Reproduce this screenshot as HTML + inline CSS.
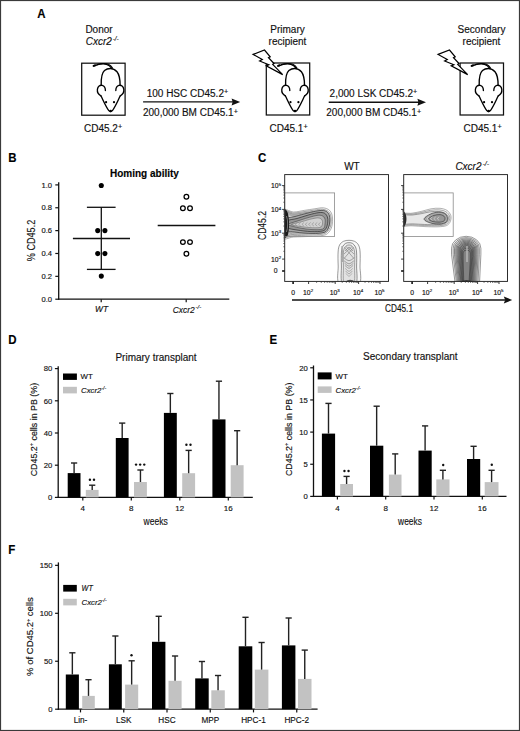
<!DOCTYPE html>
<html><head><meta charset="utf-8"><style>
html,body{margin:0;padding:0;background:#fff;}
svg{display:block;}
text{font-family:"Liberation Sans",sans-serif;stroke:#111;stroke-width:0.15px;}
</style></head><body>
<svg width="520" height="731" viewBox="0 0 520 731" fill="#111">
<rect x="0" y="0" width="520" height="731" fill="#fff"/>
<text x="37.30" y="17.70" font-size="12.6" font-weight="bold" fill="#000" textLength="8.3" lengthAdjust="spacingAndGlyphs" >A</text>
<text x="85.40" y="32.70" font-size="10" >Donor</text>
<text x="85.80" y="44.80" font-size="10" font-style="italic" >Cxcr2<tspan dx="0.8" dy="-4.1" font-size="6.4">-/-</tspan></text>
<rect x="81.70" y="63.20" width="43.40" height="52.00" fill="none" stroke="#111" stroke-width="1.25"/>
<g transform="translate(0.00,0.00)" fill="none" stroke="#000" stroke-width="1.35" stroke-linecap="round" stroke-linejoin="round">
<path d="M94.2,65.8 C98,64.3 103,63.6 106.5,64.3 C108.6,64.8 110.4,66.2 111.4,67.9" stroke-width="1.3"/>
<path d="M97,64.6 C101,63.4 105.5,63.2 108.4,64.3 C110.2,65 111.5,66.3 112.4,67.8" stroke-width="1.1"/>
<path d="M93.6,65.9 L95.2,65.3" stroke-width="2"/>
<path d="M101.2,85.2 C101,78 101.8,73 104.5,70.6 C106.5,68.9 108.4,68.5 110.4,68.5 C112.7,68.5 115,69.5 117,71.8 C119.2,74.5 120.1,79 120.1,85.2"/>
<path d="M105.4,90.6 C105.4,88 104.3,86 102.2,85.4 C100,84.8 97.8,86.5 97.4,89.3 C97.1,92 98.4,94.5 100.9,95.8"/>
<path d="M115.8,90.6 C115.8,88 116.9,86 119,85.4 C121.2,84.8 123.4,86.5 123.8,89.3 C124.1,92 122.8,94.5 120.3,95.8"/>
<path d="M100.9,95.8 C103.5,101 106.3,107.5 108.8,110.6 C109.8,111.8 111.4,111.8 112.4,110.6 C114.9,107.5 117.7,101 120.3,95.8"/>
</g>
<circle cx="106.10" cy="102.20" r="1.1" fill="#000"/>
<circle cx="114.00" cy="102.20" r="1.1" fill="#000"/>
<circle cx="110.60" cy="111.00" r="1.35" fill="#000"/>
<text x="84.00" y="131.70" font-size="10" >CD45.2<tspan dy="-2.6" font-size="7.2">+</tspan></text>
<text x="287.50" y="32.70" font-size="10" text-anchor="middle" >Primary</text>
<text x="287.50" y="44.90" font-size="10" text-anchor="middle" >recipient</text>
<rect x="266.30" y="63.00" width="43.40" height="52.00" fill="none" stroke="#111" stroke-width="1.25"/>
<g transform="translate(184.40,0.00)" fill="none" stroke="#000" stroke-width="1.35" stroke-linecap="round" stroke-linejoin="round">
<path d="M94.2,65.8 C98,64.3 103,63.6 106.5,64.3 C108.6,64.8 110.4,66.2 111.4,67.9" stroke-width="1.3"/>
<path d="M97,64.6 C101,63.4 105.5,63.2 108.4,64.3 C110.2,65 111.5,66.3 112.4,67.8" stroke-width="1.1"/>
<path d="M93.6,65.9 L95.2,65.3" stroke-width="2"/>
<path d="M101.2,85.2 C101,78 101.8,73 104.5,70.6 C106.5,68.9 108.4,68.5 110.4,68.5 C112.7,68.5 115,69.5 117,71.8 C119.2,74.5 120.1,79 120.1,85.2"/>
<path d="M105.4,90.6 C105.4,88 104.3,86 102.2,85.4 C100,84.8 97.8,86.5 97.4,89.3 C97.1,92 98.4,94.5 100.9,95.8"/>
<path d="M115.8,90.6 C115.8,88 116.9,86 119,85.4 C121.2,84.8 123.4,86.5 123.8,89.3 C124.1,92 122.8,94.5 120.3,95.8"/>
<path d="M100.9,95.8 C103.5,101 106.3,107.5 108.8,110.6 C109.8,111.8 111.4,111.8 112.4,110.6 C114.9,107.5 117.7,101 120.3,95.8"/>
</g>
<circle cx="290.50" cy="102.20" r="1.1" fill="#000"/>
<circle cx="298.40" cy="102.20" r="1.1" fill="#000"/>
<circle cx="295.00" cy="111.00" r="1.35" fill="#000"/>
<path d="M253.10,54.40 L264.50,50.00 L270.20,56.90 L268.50,57.70 L274.00,63.50 L272.70,64.40 L282.70,74.60 L266.20,65.90 L268.80,64.80 L259.60,61.00 L262.30,59.50 Z" fill="#fff" stroke="#000" stroke-width="1.2" stroke-linejoin="miter"/>
<text x="269.50" y="131.70" font-size="10" >CD45.1<tspan dy="-2.6" font-size="7.2">+</tspan></text>
<text x="481.50" y="32.70" font-size="10" text-anchor="middle" >Secondary</text>
<text x="481.50" y="44.90" font-size="10" text-anchor="middle" >recipient</text>
<rect x="460.10" y="63.00" width="43.40" height="52.00" fill="none" stroke="#111" stroke-width="1.25"/>
<g transform="translate(378.00,0.00)" fill="none" stroke="#000" stroke-width="1.35" stroke-linecap="round" stroke-linejoin="round">
<path d="M94.2,65.8 C98,64.3 103,63.6 106.5,64.3 C108.6,64.8 110.4,66.2 111.4,67.9" stroke-width="1.3"/>
<path d="M97,64.6 C101,63.4 105.5,63.2 108.4,64.3 C110.2,65 111.5,66.3 112.4,67.8" stroke-width="1.1"/>
<path d="M93.6,65.9 L95.2,65.3" stroke-width="2"/>
<path d="M101.2,85.2 C101,78 101.8,73 104.5,70.6 C106.5,68.9 108.4,68.5 110.4,68.5 C112.7,68.5 115,69.5 117,71.8 C119.2,74.5 120.1,79 120.1,85.2"/>
<path d="M105.4,90.6 C105.4,88 104.3,86 102.2,85.4 C100,84.8 97.8,86.5 97.4,89.3 C97.1,92 98.4,94.5 100.9,95.8"/>
<path d="M115.8,90.6 C115.8,88 116.9,86 119,85.4 C121.2,84.8 123.4,86.5 123.8,89.3 C124.1,92 122.8,94.5 120.3,95.8"/>
<path d="M100.9,95.8 C103.5,101 106.3,107.5 108.8,110.6 C109.8,111.8 111.4,111.8 112.4,110.6 C114.9,107.5 117.7,101 120.3,95.8"/>
</g>
<circle cx="484.10" cy="102.20" r="1.1" fill="#000"/>
<circle cx="492.00" cy="102.20" r="1.1" fill="#000"/>
<circle cx="488.60" cy="111.00" r="1.35" fill="#000"/>
<path d="M438.10,54.40 L449.50,50.00 L455.20,56.90 L453.50,57.70 L459.00,63.50 L457.70,64.40 L467.70,74.60 L451.20,65.90 L453.80,64.80 L444.60,61.00 L447.30,59.50 Z" fill="#fff" stroke="#000" stroke-width="1.2" stroke-linejoin="miter"/>
<text x="463.50" y="131.70" font-size="10" >CD45.1<tspan dy="-2.6" font-size="7.2">+</tspan></text>
<line x1="143.10" y1="101.90" x2="235.20" y2="101.90" stroke="#111" stroke-width="1.4"/>
<path d="M231.60,98.40 L240.20,101.90 L231.60,105.40 L232.60,101.90 Z" fill="#111"/>
<text x="146.70" y="96.50" font-size="10" >100 HSC CD45.2<tspan dy="-2.6" font-size="7.2">+</tspan></text>
<text x="143.00" y="116.30" font-size="10" >200,000 BM CD45.1<tspan dy="-2.6" font-size="7.2">+</tspan></text>
<line x1="328.70" y1="102.30" x2="421.00" y2="102.30" stroke="#111" stroke-width="1.4"/>
<path d="M417.40,98.80 L426.00,102.30 L417.40,105.80 L418.40,102.30 Z" fill="#111"/>
<text x="329.60" y="96.50" font-size="10" >2,000 LSK CD45.2<tspan dy="-2.6" font-size="7.2">+</tspan></text>
<text x="326.30" y="116.30" font-size="10" >200,000 BM CD45.1<tspan dy="-2.6" font-size="7.2">+</tspan></text>
<text x="8.30" y="161.50" font-size="12.6" font-weight="bold" fill="#000" textLength="8.3" lengthAdjust="spacingAndGlyphs" >B</text>
<text x="110.00" y="176.80" font-size="10" font-weight="bold" fill="#000" >Homing ability</text>
<line x1="58.70" y1="182.30" x2="58.70" y2="299.85" stroke="#111" stroke-width="1.3"/>
<line x1="58.05" y1="299.20" x2="229.30" y2="299.20" stroke="#111" stroke-width="1.3"/>
<line x1="55.30" y1="299.20" x2="58.70" y2="299.20" stroke="#111" stroke-width="1.2"/>
<text x="52.00" y="301.90" font-size="7.6" text-anchor="end" >0.0</text>
<line x1="55.30" y1="276.34" x2="58.70" y2="276.34" stroke="#111" stroke-width="1.2"/>
<text x="52.00" y="279.04" font-size="7.6" text-anchor="end" >0.2</text>
<line x1="55.30" y1="253.48" x2="58.70" y2="253.48" stroke="#111" stroke-width="1.2"/>
<text x="52.00" y="256.18" font-size="7.6" text-anchor="end" >0.4</text>
<line x1="55.30" y1="230.62" x2="58.70" y2="230.62" stroke="#111" stroke-width="1.2"/>
<text x="52.00" y="233.32" font-size="7.6" text-anchor="end" >0.6</text>
<line x1="55.30" y1="207.76" x2="58.70" y2="207.76" stroke="#111" stroke-width="1.2"/>
<text x="52.00" y="210.46" font-size="7.6" text-anchor="end" >0.8</text>
<line x1="55.30" y1="184.90" x2="58.70" y2="184.90" stroke="#111" stroke-width="1.2"/>
<text x="52.00" y="187.60" font-size="7.6" text-anchor="end" >1.0</text>
<line x1="101.20" y1="299.20" x2="101.20" y2="302.30" stroke="#111" stroke-width="1.2"/>
<line x1="186.20" y1="299.20" x2="186.20" y2="302.30" stroke="#111" stroke-width="1.2"/>
<text x="101.50" y="312.30" font-size="8.4" text-anchor="middle" font-style="italic" >WT</text>
<text x="172.80" y="312.50" font-size="8.4" font-style="italic" >Cxcr2<tspan dx="0.8" dy="-3.3" font-size="6">-/-</tspan></text>
<text transform="translate(35.3,240.5) rotate(-90)" font-size="10.8" text-anchor="middle" textLength="41.4" lengthAdjust="spacingAndGlyphs" fill="#111">% CD45.2</text>
<circle cx="101.3" cy="185.5" r="2.55" fill="#000"/>
<circle cx="97.7" cy="230.6" r="2.55" fill="#000"/>
<circle cx="104.9" cy="230.6" r="2.55" fill="#000"/>
<circle cx="97.7" cy="253.6" r="2.55" fill="#000"/>
<circle cx="104.9" cy="253.6" r="2.55" fill="#000"/>
<circle cx="101.3" cy="276.1" r="2.55" fill="#000"/>
<line x1="72.90" y1="238.50" x2="130.00" y2="238.50" stroke="#111" stroke-width="1.3"/>
<line x1="101.30" y1="207.30" x2="101.30" y2="269.40" stroke="#111" stroke-width="1.3"/>
<line x1="86.90" y1="207.30" x2="115.60" y2="207.30" stroke="#111" stroke-width="1.3"/>
<line x1="86.90" y1="269.40" x2="115.60" y2="269.40" stroke="#111" stroke-width="1.3"/>
<circle cx="186.4" cy="196.7" r="2.35" fill="#fff" stroke="#000" stroke-width="1.25"/>
<circle cx="182.9" cy="208.2" r="2.35" fill="#fff" stroke="#000" stroke-width="1.25"/>
<circle cx="190" cy="208.2" r="2.35" fill="#fff" stroke="#000" stroke-width="1.25"/>
<circle cx="182.9" cy="242.1" r="2.35" fill="#fff" stroke="#000" stroke-width="1.25"/>
<circle cx="190" cy="242.1" r="2.35" fill="#fff" stroke="#000" stroke-width="1.25"/>
<circle cx="186.4" cy="253.7" r="2.35" fill="#fff" stroke="#000" stroke-width="1.25"/>
<line x1="157.70" y1="225.50" x2="215.40" y2="225.50" stroke="#111" stroke-width="1.3"/>
<text x="257.90" y="161.90" font-size="12.6" font-weight="bold" fill="#000" textLength="8.3" lengthAdjust="spacingAndGlyphs" >C</text>
<g id="flow"></g>
<text x="8.30" y="344.20" font-size="12.6" font-weight="bold" fill="#000" textLength="8.3" lengthAdjust="spacingAndGlyphs" >D</text>
<text x="156.00" y="360.50" font-size="10" text-anchor="middle" >Primary transplant</text>
<line x1="58.20" y1="366.30" x2="58.20" y2="498.05" stroke="#111" stroke-width="1.3"/>
<line x1="57.55" y1="497.40" x2="252.80" y2="497.40" stroke="#111" stroke-width="1.3"/>
<line x1="54.90" y1="497.40" x2="58.20" y2="497.40" stroke="#111" stroke-width="1.2"/>
<text x="52.40" y="500.20" font-size="7.7" text-anchor="end" >0</text>
<line x1="54.90" y1="465.20" x2="58.20" y2="465.20" stroke="#111" stroke-width="1.2"/>
<text x="52.40" y="468.00" font-size="7.7" text-anchor="end" >20</text>
<line x1="54.90" y1="433.00" x2="58.20" y2="433.00" stroke="#111" stroke-width="1.2"/>
<text x="52.40" y="435.80" font-size="7.7" text-anchor="end" >40</text>
<line x1="54.90" y1="400.80" x2="58.20" y2="400.80" stroke="#111" stroke-width="1.2"/>
<text x="52.40" y="403.60" font-size="7.7" text-anchor="end" >60</text>
<line x1="54.90" y1="368.60" x2="58.20" y2="368.60" stroke="#111" stroke-width="1.2"/>
<text x="52.40" y="371.40" font-size="7.7" text-anchor="end" >80</text>
<line x1="82.80" y1="497.40" x2="82.80" y2="500.60" stroke="#111" stroke-width="1.2"/>
<line x1="131.30" y1="497.40" x2="131.30" y2="500.60" stroke="#111" stroke-width="1.2"/>
<line x1="179.80" y1="497.40" x2="179.80" y2="500.60" stroke="#111" stroke-width="1.2"/>
<line x1="228.30" y1="497.40" x2="228.30" y2="500.60" stroke="#111" stroke-width="1.2"/>
<rect x="67.70" y="473.10" width="12.80" height="24.30" fill="#000"/>
<line x1="74.10" y1="473.10" x2="74.10" y2="463.00" stroke="#222" stroke-width="1.4"/>
<line x1="71.00" y1="463.00" x2="77.20" y2="463.00" stroke="#222" stroke-width="1.4"/>
<rect x="85.80" y="489.90" width="12.80" height="7.50" fill="#c2c2c2"/>
<line x1="92.20" y1="489.90" x2="92.20" y2="485.20" stroke="#222" stroke-width="1.4"/>
<line x1="89.10" y1="485.20" x2="95.30" y2="485.20" stroke="#222" stroke-width="1.4"/>
<rect x="115.80" y="438.00" width="12.80" height="59.40" fill="#000"/>
<line x1="122.20" y1="438.00" x2="122.20" y2="423.10" stroke="#222" stroke-width="1.4"/>
<line x1="119.10" y1="423.10" x2="125.30" y2="423.10" stroke="#222" stroke-width="1.4"/>
<rect x="134.00" y="482.00" width="12.90" height="15.40" fill="#c2c2c2"/>
<line x1="140.45" y1="482.00" x2="140.45" y2="470.00" stroke="#222" stroke-width="1.4"/>
<line x1="137.35" y1="470.00" x2="143.55" y2="470.00" stroke="#222" stroke-width="1.4"/>
<rect x="163.90" y="412.90" width="12.90" height="84.50" fill="#000"/>
<line x1="170.35" y1="412.90" x2="170.35" y2="393.50" stroke="#222" stroke-width="1.4"/>
<line x1="167.25" y1="393.50" x2="173.45" y2="393.50" stroke="#222" stroke-width="1.4"/>
<rect x="182.20" y="473.20" width="12.90" height="24.20" fill="#c2c2c2"/>
<line x1="188.65" y1="473.20" x2="188.65" y2="450.40" stroke="#222" stroke-width="1.4"/>
<line x1="185.55" y1="450.40" x2="191.75" y2="450.40" stroke="#222" stroke-width="1.4"/>
<rect x="212.40" y="419.40" width="13.10" height="78.00" fill="#000"/>
<line x1="218.95" y1="419.40" x2="218.95" y2="381.20" stroke="#222" stroke-width="1.4"/>
<line x1="215.85" y1="381.20" x2="222.05" y2="381.20" stroke="#222" stroke-width="1.4"/>
<rect x="230.70" y="465.20" width="12.90" height="32.20" fill="#c2c2c2"/>
<line x1="237.15" y1="465.20" x2="237.15" y2="430.70" stroke="#222" stroke-width="1.4"/>
<line x1="234.05" y1="430.70" x2="240.25" y2="430.70" stroke="#222" stroke-width="1.4"/>
<circle cx="89.90" cy="479.80" r="1.2" fill="#111"/>
<circle cx="94.00" cy="479.80" r="1.2" fill="#111"/>
<circle cx="136.05" cy="464.60" r="1.2" fill="#111"/>
<circle cx="140.15" cy="464.60" r="1.2" fill="#111"/>
<circle cx="144.25" cy="464.60" r="1.2" fill="#111"/>
<circle cx="186.40" cy="444.80" r="1.2" fill="#111"/>
<circle cx="190.50" cy="444.80" r="1.2" fill="#111"/>
<text x="82.80" y="511.20" font-size="8.0" text-anchor="middle" >4</text>
<text x="131.30" y="511.20" font-size="8.0" text-anchor="middle" >8</text>
<text x="179.80" y="511.20" font-size="8.0" text-anchor="middle" >12</text>
<text x="228.30" y="511.20" font-size="8.0" text-anchor="middle" >16</text>
<text x="155.60" y="525.00" font-size="11" text-anchor="middle" textLength="24.2" lengthAdjust="spacingAndGlyphs" >weeks</text>
<text transform="translate(36.6,429.6) rotate(-90)" font-size="8.9" text-anchor="middle" fill="#111">CD45.2<tspan dy="-3.2" font-size="5.5">+</tspan><tspan dy="3.2"> cells in PB (%)</tspan></text>
<rect x="63.00" y="373.50" width="13.90" height="6.40" fill="#000"/>
<text x="80.60" y="379.40" font-size="7.8" >WT</text>
<rect x="63.00" y="386.80" width="13.90" height="6.60" fill="#c2c2c2"/>
<text x="81.00" y="393.20" font-size="7.8" font-style="italic" >Cxcr2<tspan dy="-3" font-size="5">-/-</tspan></text>
<text x="269.40" y="344.10" font-size="12.6" font-weight="bold" fill="#000" textLength="7.67" lengthAdjust="spacingAndGlyphs" >E</text>
<text x="410.30" y="359.60" font-size="10" text-anchor="middle" >Secondary transplant</text>
<line x1="313.50" y1="365.50" x2="313.50" y2="497.05" stroke="#111" stroke-width="1.3"/>
<line x1="312.85" y1="496.40" x2="506.50" y2="496.40" stroke="#111" stroke-width="1.3"/>
<line x1="310.20" y1="496.40" x2="313.50" y2="496.40" stroke="#111" stroke-width="1.2"/>
<text x="307.70" y="499.20" font-size="7.7" text-anchor="end" >0</text>
<line x1="310.20" y1="464.25" x2="313.50" y2="464.25" stroke="#111" stroke-width="1.2"/>
<text x="307.70" y="467.05" font-size="7.7" text-anchor="end" >5</text>
<line x1="310.20" y1="432.10" x2="313.50" y2="432.10" stroke="#111" stroke-width="1.2"/>
<text x="307.70" y="434.90" font-size="7.7" text-anchor="end" >10</text>
<line x1="310.20" y1="399.95" x2="313.50" y2="399.95" stroke="#111" stroke-width="1.2"/>
<text x="307.70" y="402.75" font-size="7.7" text-anchor="end" >15</text>
<line x1="310.20" y1="367.80" x2="313.50" y2="367.80" stroke="#111" stroke-width="1.2"/>
<text x="307.70" y="370.60" font-size="7.7" text-anchor="end" >20</text>
<line x1="337.40" y1="496.40" x2="337.40" y2="499.60" stroke="#111" stroke-width="1.2"/>
<line x1="385.70" y1="496.40" x2="385.70" y2="499.60" stroke="#111" stroke-width="1.2"/>
<line x1="434.00" y1="496.40" x2="434.00" y2="499.60" stroke="#111" stroke-width="1.2"/>
<line x1="482.30" y1="496.40" x2="482.30" y2="499.60" stroke="#111" stroke-width="1.2"/>
<rect x="321.90" y="433.60" width="13.20" height="62.80" fill="#000"/>
<line x1="328.50" y1="433.60" x2="328.50" y2="403.40" stroke="#222" stroke-width="1.4"/>
<line x1="325.40" y1="403.40" x2="331.60" y2="403.40" stroke="#222" stroke-width="1.4"/>
<rect x="340.20" y="484.00" width="12.80" height="12.40" fill="#c2c2c2"/>
<line x1="346.60" y1="484.00" x2="346.60" y2="476.40" stroke="#222" stroke-width="1.4"/>
<line x1="343.50" y1="476.40" x2="349.70" y2="476.40" stroke="#222" stroke-width="1.4"/>
<rect x="370.00" y="445.70" width="13.30" height="50.70" fill="#000"/>
<line x1="376.65" y1="445.70" x2="376.65" y2="406.20" stroke="#222" stroke-width="1.4"/>
<line x1="373.55" y1="406.20" x2="379.75" y2="406.20" stroke="#222" stroke-width="1.4"/>
<rect x="388.90" y="474.60" width="12.60" height="21.80" fill="#c2c2c2"/>
<line x1="395.20" y1="474.60" x2="395.20" y2="453.90" stroke="#222" stroke-width="1.4"/>
<line x1="392.10" y1="453.90" x2="398.30" y2="453.90" stroke="#222" stroke-width="1.4"/>
<rect x="418.50" y="450.60" width="13.20" height="45.80" fill="#000"/>
<line x1="425.10" y1="450.60" x2="425.10" y2="425.90" stroke="#222" stroke-width="1.4"/>
<line x1="422.00" y1="425.90" x2="428.20" y2="425.90" stroke="#222" stroke-width="1.4"/>
<rect x="436.30" y="479.40" width="13.20" height="17.00" fill="#c2c2c2"/>
<line x1="442.90" y1="479.40" x2="442.90" y2="470.30" stroke="#222" stroke-width="1.4"/>
<line x1="439.80" y1="470.30" x2="446.00" y2="470.30" stroke="#222" stroke-width="1.4"/>
<rect x="467.00" y="459.00" width="13.20" height="37.40" fill="#000"/>
<line x1="473.60" y1="459.00" x2="473.60" y2="446.30" stroke="#222" stroke-width="1.4"/>
<line x1="470.50" y1="446.30" x2="476.70" y2="446.30" stroke="#222" stroke-width="1.4"/>
<rect x="484.70" y="482.10" width="13.80" height="14.30" fill="#c2c2c2"/>
<line x1="491.60" y1="482.10" x2="491.60" y2="470.30" stroke="#222" stroke-width="1.4"/>
<line x1="488.50" y1="470.30" x2="494.70" y2="470.30" stroke="#222" stroke-width="1.4"/>
<circle cx="344.45" cy="471.00" r="1.2" fill="#111"/>
<circle cx="348.55" cy="471.00" r="1.2" fill="#111"/>
<circle cx="443.20" cy="465.00" r="1.2" fill="#111"/>
<circle cx="491.80" cy="464.70" r="1.2" fill="#111"/>
<text x="337.40" y="510.80" font-size="8.0" text-anchor="middle" >4</text>
<text x="385.70" y="510.80" font-size="8.0" text-anchor="middle" >8</text>
<text x="434.00" y="510.80" font-size="8.0" text-anchor="middle" >12</text>
<text x="482.30" y="510.80" font-size="8.0" text-anchor="middle" >16</text>
<text x="410.00" y="524.60" font-size="11" text-anchor="middle" textLength="23.8" lengthAdjust="spacingAndGlyphs" >weeks</text>
<text transform="translate(291.6,429.3) rotate(-90)" font-size="8.9" text-anchor="middle" fill="#111">CD45.2<tspan dy="-3.2" font-size="5.5">+</tspan><tspan dy="3.2"> cells in PB (%)</tspan></text>
<rect x="317.70" y="372.40" width="13.90" height="7.00" fill="#000"/>
<text x="335.60" y="379.20" font-size="7.8" >WT</text>
<rect x="317.70" y="386.40" width="13.90" height="6.50" fill="#c2c2c2"/>
<text x="335.60" y="392.60" font-size="7.8" font-style="italic" >Cxcr2<tspan dy="-3" font-size="5">-/-</tspan></text>
<text x="8.30" y="554.30" font-size="12.6" font-weight="bold" fill="#000" textLength="7.03" lengthAdjust="spacingAndGlyphs" >F</text>
<line x1="58.40" y1="562.40" x2="58.40" y2="709.85" stroke="#111" stroke-width="1.3"/>
<line x1="57.75" y1="709.20" x2="317.60" y2="709.20" stroke="#111" stroke-width="1.3"/>
<line x1="55.10" y1="709.20" x2="58.40" y2="709.20" stroke="#111" stroke-width="1.2"/>
<text x="52.60" y="712.00" font-size="7.7" text-anchor="end" >0</text>
<line x1="55.10" y1="661.25" x2="58.40" y2="661.25" stroke="#111" stroke-width="1.2"/>
<text x="52.60" y="664.05" font-size="7.7" text-anchor="end" >50</text>
<line x1="55.10" y1="613.30" x2="58.40" y2="613.30" stroke="#111" stroke-width="1.2"/>
<text x="52.60" y="616.10" font-size="7.7" text-anchor="end" >100</text>
<line x1="55.10" y1="565.35" x2="58.40" y2="565.35" stroke="#111" stroke-width="1.2"/>
<text x="52.60" y="568.15" font-size="7.7" text-anchor="end" >150</text>
<line x1="80.50" y1="709.20" x2="80.50" y2="712.40" stroke="#111" stroke-width="1.2"/>
<line x1="123.75" y1="709.20" x2="123.75" y2="712.40" stroke="#111" stroke-width="1.2"/>
<line x1="167.00" y1="709.20" x2="167.00" y2="712.40" stroke="#111" stroke-width="1.2"/>
<line x1="210.25" y1="709.20" x2="210.25" y2="712.40" stroke="#111" stroke-width="1.2"/>
<line x1="253.50" y1="709.20" x2="253.50" y2="712.40" stroke="#111" stroke-width="1.2"/>
<line x1="296.75" y1="709.20" x2="296.75" y2="712.40" stroke="#111" stroke-width="1.2"/>
<rect x="65.80" y="674.50" width="13.10" height="34.70" fill="#000"/>
<line x1="72.35" y1="674.50" x2="72.35" y2="652.80" stroke="#222" stroke-width="1.4"/>
<line x1="69.25" y1="652.80" x2="75.45" y2="652.80" stroke="#222" stroke-width="1.4"/>
<rect x="82.20" y="695.90" width="12.60" height="13.30" fill="#c2c2c2"/>
<line x1="88.50" y1="695.90" x2="88.50" y2="679.70" stroke="#222" stroke-width="1.4"/>
<line x1="85.40" y1="679.70" x2="91.60" y2="679.70" stroke="#222" stroke-width="1.4"/>
<rect x="108.90" y="664.30" width="12.90" height="44.90" fill="#000"/>
<line x1="115.35" y1="664.30" x2="115.35" y2="636.00" stroke="#222" stroke-width="1.4"/>
<line x1="112.25" y1="636.00" x2="118.45" y2="636.00" stroke="#222" stroke-width="1.4"/>
<rect x="125.10" y="684.60" width="13.10" height="24.60" fill="#c2c2c2"/>
<line x1="131.65" y1="684.60" x2="131.65" y2="660.80" stroke="#222" stroke-width="1.4"/>
<line x1="128.55" y1="660.80" x2="134.75" y2="660.80" stroke="#222" stroke-width="1.4"/>
<rect x="152.00" y="641.80" width="13.40" height="67.40" fill="#000"/>
<line x1="158.70" y1="641.80" x2="158.70" y2="616.30" stroke="#222" stroke-width="1.4"/>
<line x1="155.60" y1="616.30" x2="161.80" y2="616.30" stroke="#222" stroke-width="1.4"/>
<rect x="168.50" y="680.80" width="13.10" height="28.40" fill="#c2c2c2"/>
<line x1="175.05" y1="680.80" x2="175.05" y2="656.00" stroke="#222" stroke-width="1.4"/>
<line x1="171.95" y1="656.00" x2="178.15" y2="656.00" stroke="#222" stroke-width="1.4"/>
<rect x="195.20" y="678.40" width="13.50" height="30.80" fill="#000"/>
<line x1="201.95" y1="678.40" x2="201.95" y2="661.50" stroke="#222" stroke-width="1.4"/>
<line x1="198.85" y1="661.50" x2="205.05" y2="661.50" stroke="#222" stroke-width="1.4"/>
<rect x="211.30" y="690.30" width="13.50" height="18.90" fill="#c2c2c2"/>
<line x1="218.05" y1="690.30" x2="218.05" y2="675.50" stroke="#222" stroke-width="1.4"/>
<line x1="214.95" y1="675.50" x2="221.15" y2="675.50" stroke="#222" stroke-width="1.4"/>
<rect x="238.70" y="646.30" width="13.60" height="62.90" fill="#000"/>
<line x1="245.50" y1="646.30" x2="245.50" y2="617.30" stroke="#222" stroke-width="1.4"/>
<line x1="242.40" y1="617.30" x2="248.60" y2="617.30" stroke="#222" stroke-width="1.4"/>
<rect x="254.80" y="669.60" width="13.60" height="39.60" fill="#c2c2c2"/>
<line x1="261.60" y1="669.60" x2="261.60" y2="642.50" stroke="#222" stroke-width="1.4"/>
<line x1="258.50" y1="642.50" x2="264.70" y2="642.50" stroke="#222" stroke-width="1.4"/>
<rect x="281.90" y="645.40" width="13.50" height="63.80" fill="#000"/>
<line x1="288.65" y1="645.40" x2="288.65" y2="618.00" stroke="#222" stroke-width="1.4"/>
<line x1="285.55" y1="618.00" x2="291.75" y2="618.00" stroke="#222" stroke-width="1.4"/>
<rect x="298.00" y="678.90" width="13.50" height="30.30" fill="#c2c2c2"/>
<line x1="304.75" y1="678.90" x2="304.75" y2="650.10" stroke="#222" stroke-width="1.4"/>
<line x1="301.65" y1="650.10" x2="307.85" y2="650.10" stroke="#222" stroke-width="1.4"/>
<circle cx="131.50" cy="655.30" r="1.2" fill="#111"/>
<text x="80.50" y="723.00" font-size="8.2" text-anchor="middle" >Lin-</text>
<text x="123.75" y="723.00" font-size="8.2" text-anchor="middle" >LSK</text>
<text x="167.00" y="723.00" font-size="8.2" text-anchor="middle" >HSC</text>
<text x="210.25" y="723.00" font-size="8.2" text-anchor="middle" >MPP</text>
<text x="253.50" y="723.00" font-size="8.2" text-anchor="middle" >HPC-1</text>
<text x="296.75" y="723.00" font-size="8.2" text-anchor="middle" >HPC-2</text>
<text transform="translate(33.3,636.5) rotate(-90)" font-size="9.5" text-anchor="middle" fill="#111">% of CD45.2<tspan dy="-3.2" font-size="5.5">+</tspan><tspan dy="3.2"> cells</tspan></text>
<rect x="63.20" y="584.90" width="13.60" height="6.70" fill="#000"/>
<text x="81.60" y="590.90" font-size="8.2" font-style="italic" textLength="11.2" lengthAdjust="spacingAndGlyphs" >WT</text>
<rect x="63.20" y="598.80" width="13.60" height="6.60" fill="#c2c2c2"/>
<text x="81.50" y="605.20" font-size="7.8" font-style="italic" >Cxcr2<tspan dy="-3" font-size="5">-/-</tspan></text>
<clipPath id="clipwt"><rect x="284.70" y="174.60" width="103.80" height="106.80"/></clipPath>
<g clip-path="url(#clipwt)">
<path d="M281.00,210.60 C283.10,206.37 289.73,212.03 293.60,212.00 C297.47,211.97 300.68,210.93 304.20,210.40 C307.72,209.87 311.53,209.23 314.70,208.80 C317.87,208.37 320.72,207.53 323.20,207.80 C325.68,208.07 328.07,208.90 329.60,210.40 C331.13,211.90 332.02,214.15 332.40,216.80 C332.78,219.45 332.55,223.67 331.90,226.30 C331.25,228.93 329.95,231.08 328.50,232.60 C327.05,234.12 326.37,234.77 323.20,235.40 C320.03,236.03 314.43,236.13 309.50,236.40 C304.57,236.67 298.35,236.83 293.60,237.00 C288.85,237.17 283.10,241.80 281.00,237.40 C278.90,233.00 278.90,214.83 281.00,210.60 Z" fill="#f6f6f6" stroke="#666" stroke-width="0.5"/>
<path d="M281.77,211.79 C283.79,207.97 290.15,213.09 293.86,213.06 C297.57,213.03 300.66,212.10 304.03,211.61 C307.40,211.13 311.06,210.56 314.10,210.17 C317.14,209.78 319.88,209.02 322.26,209.26 C324.64,209.50 326.93,210.26 328.40,211.61 C329.87,212.97 330.72,215.00 331.08,217.40 C331.45,219.79 331.23,223.60 330.60,225.98 C329.98,228.36 328.73,230.30 327.34,231.68 C325.95,233.05 325.30,233.63 322.26,234.21 C319.22,234.78 313.85,234.87 309.11,235.11 C304.38,235.35 298.42,235.50 293.86,235.65 C289.30,235.80 283.79,239.99 281.77,236.01 C279.76,232.04 279.76,215.62 281.77,211.79 Z" fill="#ececec" stroke="#555" stroke-width="0.5"/>
<path d="M282.54,212.99 C284.47,209.57 290.57,214.15 294.12,214.12 C297.67,214.09 300.63,213.26 303.86,212.83 C307.09,212.40 310.60,211.88 313.51,211.53 C316.42,211.18 319.03,210.51 321.31,210.73 C323.60,210.94 325.79,211.62 327.19,212.83 C328.60,214.04 329.42,215.85 329.77,217.99 C330.12,220.13 329.91,223.54 329.31,225.66 C328.71,227.79 327.52,229.53 326.18,230.75 C324.85,231.98 324.22,232.50 321.31,233.01 C318.41,233.52 313.26,233.60 308.73,233.82 C304.20,234.03 298.48,234.17 294.12,234.30 C289.76,234.44 284.47,238.18 282.54,234.63 C280.61,231.07 280.61,216.41 282.54,212.99 Z" fill="#dedede" stroke="#444" stroke-width="0.5"/>
<path d="M283.32,214.18 C285.16,211.17 290.98,215.20 294.38,215.18 C297.78,215.15 300.60,214.42 303.69,214.04 C306.78,213.66 310.13,213.21 312.91,212.90 C315.69,212.59 318.19,212.00 320.37,212.19 C322.55,212.38 324.65,212.97 325.99,214.04 C327.34,215.11 328.11,216.71 328.45,218.59 C328.79,220.48 328.58,223.47 328.01,225.35 C327.44,227.22 326.30,228.75 325.03,229.83 C323.75,230.91 323.15,231.37 320.37,231.82 C317.59,232.27 312.67,232.34 308.34,232.53 C304.01,232.72 298.55,232.84 294.38,232.96 C290.21,233.07 285.16,236.37 283.32,233.24 C281.47,230.11 281.47,217.19 283.32,214.18 Z" fill="#e2e2e2" stroke="#555" stroke-width="0.45"/>
<path d="M284.09,215.38 C285.85,212.77 291.40,216.26 294.64,216.24 C297.88,216.22 300.57,215.58 303.52,215.25 C306.46,214.93 309.66,214.54 312.31,214.27 C314.96,214.00 317.35,213.49 319.43,213.65 C321.51,213.82 323.51,214.33 324.79,215.25 C326.07,216.18 326.81,217.56 327.13,219.19 C327.46,220.82 327.26,223.41 326.72,225.03 C326.17,226.65 325.08,227.97 323.87,228.90 C322.65,229.83 322.08,230.23 319.43,230.62 C316.78,231.01 312.09,231.07 307.96,231.24 C303.82,231.40 298.62,231.50 294.64,231.61 C290.66,231.71 285.85,234.56 284.09,231.85 C282.33,229.15 282.33,217.98 284.09,215.38 Z" fill="#dadada" stroke="#555" stroke-width="0.45"/>
<path d="M284.00,219.50 C285.83,217.33 291.00,217.58 295.00,216.50 C299.00,215.42 304.17,213.95 308.00,213.00 C311.83,212.05 315.17,211.17 318.00,210.80 C320.83,210.43 323.17,210.18 325.00,210.80 C326.83,211.42 328.20,212.80 329.00,214.50 C329.80,216.20 329.92,218.75 329.80,221.00 C329.68,223.25 329.18,226.12 328.30,228.00 C327.42,229.88 327.22,231.40 324.50,232.30 C321.78,233.20 316.75,233.42 312.00,233.40 C307.25,233.38 300.67,232.85 296.00,232.20 C291.33,231.55 286.00,231.62 284.00,229.50 C282.00,227.38 282.17,221.67 284.00,219.50 Z" fill="#a8a8a8" stroke="#222" stroke-width="0.6"/>
<path d="M287.00,221.00 C288.67,219.50 293.33,219.53 297.00,218.50 C300.67,217.47 305.33,215.78 309.00,214.80 C312.67,213.82 316.42,212.87 319.00,212.60 C321.58,212.33 323.10,212.47 324.50,213.20 C325.90,213.93 326.85,215.53 327.40,217.00 C327.95,218.47 328.00,220.17 327.80,222.00 C327.60,223.83 327.08,226.50 326.20,228.00 C325.32,229.50 325.03,230.40 322.50,231.00 C319.97,231.60 315.25,231.77 311.00,231.60 C306.75,231.43 301.00,230.68 297.00,230.00 C293.00,229.32 288.67,229.00 287.00,227.50 C285.33,226.00 285.33,222.50 287.00,221.00 Z" fill="#969696" stroke="#1a1a1a" stroke-width="0.6"/>
<path d="M289.00,223.80 C290.83,222.97 296.33,221.37 300.00,220.20 C303.67,219.03 307.67,217.63 311.00,216.80 C314.33,215.97 317.73,215.00 320.00,215.20 C322.27,215.40 323.77,216.53 324.60,218.00 C325.43,219.47 325.30,222.17 325.00,224.00 C324.70,225.83 324.97,228.07 322.80,229.00 C320.63,229.93 315.80,229.77 312.00,229.60 C308.20,229.43 303.83,228.73 300.00,228.00 C296.17,227.27 290.83,225.90 289.00,225.20 C287.17,224.50 287.17,224.63 289.00,223.80 Z" fill="#b4b4b4" stroke="#333" stroke-width="0.5"/>
<path d="M292.00,224.20 C293.67,223.65 298.67,222.50 302.00,221.60 C305.33,220.70 309.17,219.40 312.00,218.80 C314.83,218.20 317.30,217.72 319.00,218.00 C320.70,218.28 321.67,219.33 322.20,220.50 C322.73,221.67 322.65,223.83 322.20,225.00 C321.75,226.17 321.53,227.07 319.50,227.50 C317.47,227.93 313.25,227.78 310.00,227.60 C306.75,227.42 303.00,226.85 300.00,226.40 C297.00,225.95 293.33,225.27 292.00,224.90 C290.67,224.53 290.33,224.75 292.00,224.20 Z" fill="#d2d2d2" stroke="#555" stroke-width="0.45"/>
<path d="M294.20,222.40 L292.00,224.30 L294.20,226.20" fill="none" stroke="#777" stroke-width="0.45"/>
<path d="M297.50,222.40 L295.30,224.30 L297.50,226.20" fill="none" stroke="#777" stroke-width="0.45"/>
<path d="M300.80,222.40 L298.60,224.30 L300.80,226.20" fill="none" stroke="#777" stroke-width="0.45"/>
<path d="M304.10,222.40 L301.90,224.30 L304.10,226.20" fill="none" stroke="#777" stroke-width="0.45"/>
<path d="M307.40,222.40 L305.20,224.30 L307.40,226.20" fill="none" stroke="#777" stroke-width="0.45"/>
<path d="M310.70,222.40 L308.50,224.30 L310.70,226.20" fill="none" stroke="#777" stroke-width="0.45"/>
<path d="M314.00,222.40 L311.80,224.30 L314.00,226.20" fill="none" stroke="#777" stroke-width="0.45"/>
<path d="M317.30,222.40 L315.10,224.30 L317.30,226.20" fill="none" stroke="#777" stroke-width="0.45"/>
<path d="M320.60,222.40 L318.40,224.30 L320.60,226.20" fill="none" stroke="#777" stroke-width="0.45"/>
<path d="M285,209 L287,211 C289.5,216 289.8,230 287.5,236 L285,238 Z" fill="#1a1a1a"/>
<path d="M286.5,216 C288,220 288,228 286.5,232" fill="none" stroke="#bbb" stroke-width="0.6"/>
<path d="M339.50,284.00 C336.03,281.00 338.43,271.33 338.20,266.00 C337.97,260.67 337.87,255.50 338.10,252.00 C338.33,248.50 338.70,246.78 339.60,245.00 C340.50,243.22 341.93,242.08 343.50,241.30 C345.07,240.52 347.17,240.30 349.00,240.30 C350.83,240.30 352.92,240.52 354.50,241.30 C356.08,242.08 357.57,243.22 358.50,245.00 C359.43,246.78 359.85,248.50 360.10,252.00 C360.35,255.50 360.18,260.67 360.00,266.00 C359.82,271.33 362.42,281.00 359.00,284.00 C355.58,287.00 342.97,287.00 339.50,284.00 Z" fill="#f8f8f8" stroke="#4a4a4a" stroke-width="0.55"/>
<path d="M342.50,284.00 C340.10,281.00 341.58,271.17 341.40,266.00 C341.22,260.83 341.23,256.17 341.40,253.00 C341.57,249.83 341.72,248.60 342.40,247.00 C343.08,245.40 344.40,244.12 345.50,243.40 C346.60,242.68 347.83,242.70 349.00,242.70 C350.17,242.70 351.42,242.68 352.50,243.40 C353.58,244.12 354.82,245.40 355.50,247.00 C356.18,248.60 356.42,249.83 356.60,253.00 C356.78,256.17 356.73,260.83 356.60,266.00 C356.47,271.17 358.15,281.00 355.80,284.00 C353.45,287.00 344.90,287.00 342.50,284.00 Z" fill="#eeeeee" stroke="#3a3a3a" stroke-width="0.55"/>
<path d="M344.20,284.00 C342.47,281.00 343.55,271.00 343.40,266.00 C343.25,261.00 343.17,256.90 343.30,254.00 C343.43,251.10 343.65,250.00 344.20,248.60 C344.75,247.20 345.80,246.20 346.60,245.60 C347.40,245.00 348.20,245.00 349.00,245.00 C349.80,245.00 350.60,245.00 351.40,245.60 C352.20,246.20 353.25,247.20 353.80,248.60 C354.35,250.00 354.57,251.10 354.70,254.00 C354.83,256.90 354.75,261.00 354.60,266.00 C354.45,271.00 355.53,281.00 353.80,284.00 C352.07,287.00 345.93,287.00 344.20,284.00 Z" fill="#e2e2e2" stroke="#555" stroke-width="0.5"/>
<line x1="344.5" y1="247.5" x2="353.5" y2="258" stroke="#666" stroke-width="0.5"/>
<line x1="353.5" y1="247.5" x2="344.5" y2="258" stroke="#666" stroke-width="0.5"/>
<line x1="346" y1="246.5" x2="354" y2="254" stroke="#666" stroke-width="0.5"/>
<line x1="352" y1="246.5" x2="344" y2="254" stroke="#666" stroke-width="0.5"/>
<line x1="345" y1="251" x2="349" y2="247" stroke="#666" stroke-width="0.5"/>
<line x1="353" y1="251" x2="349" y2="247" stroke="#666" stroke-width="0.5"/>
<path d="M342,246 C342.5,252 342.5,258 342.6,262" fill="none" stroke="#aaa" stroke-width="1.4"/>
<path d="M343.80,257.80 Q346.92,260.40 349.00,260.80 Q351.08,260.40 354.20,257.80" fill="none" stroke="#555" stroke-width="0.5"/>
<path d="M344.20,260.90 Q347.08,263.50 349.00,263.90 Q350.92,263.50 353.80,260.90" fill="none" stroke="#555" stroke-width="0.5"/>
<path d="M344.60,263.20 Q347.24,265.80 349.00,266.20 Q350.76,265.80 353.40,263.20" fill="none" stroke="#666" stroke-width="0.5"/>
<path d="M344.90,265.40 Q347.36,268.00 349.00,268.40 Q350.64,268.00 353.10,265.40" fill="none" stroke="#666" stroke-width="0.5"/>
<path d="M345.20,268.40 Q347.48,271.00 349.00,271.40 Q350.52,271.00 352.80,268.40" fill="none" stroke="#777" stroke-width="0.5"/>
<path d="M345.60,270.90 Q347.64,273.50 349.00,273.90 Q350.36,273.50 352.40,270.90" fill="none" stroke="#777" stroke-width="0.5"/>
<path d="M346.00,273.40 Q347.80,276.00 349.00,276.40 Q350.20,276.00 352.00,273.40" fill="none" stroke="#888" stroke-width="0.5"/>
<path d="M345,282 Q350,277.5 355.5,282 Z" fill="#555"/>
<rect x="284.70" y="192.9" width="49.90" height="43.60" fill="none" stroke="#8a8a8a" stroke-width="0.8"/>
</g>
<rect x="284.70" y="174.60" width="103.80" height="106.80" fill="none" stroke="#222" stroke-width="0.95"/>
<line x1="282.10" y1="185.60" x2="284.70" y2="185.60" stroke="#222" stroke-width="0.9"/>
<line x1="282.10" y1="209.40" x2="284.70" y2="209.40" stroke="#222" stroke-width="0.9"/>
<line x1="282.10" y1="233.20" x2="284.70" y2="233.20" stroke="#222" stroke-width="0.9"/>
<line x1="282.10" y1="259.10" x2="284.70" y2="259.10" stroke="#222" stroke-width="0.9"/>
<line x1="283.30" y1="202.24" x2="284.70" y2="202.24" stroke="#333" stroke-width="0.7"/>
<line x1="283.30" y1="198.04" x2="284.70" y2="198.04" stroke="#333" stroke-width="0.7"/>
<line x1="283.30" y1="195.07" x2="284.70" y2="195.07" stroke="#333" stroke-width="0.7"/>
<line x1="283.30" y1="192.76" x2="284.70" y2="192.76" stroke="#333" stroke-width="0.7"/>
<line x1="283.30" y1="190.88" x2="284.70" y2="190.88" stroke="#333" stroke-width="0.7"/>
<line x1="283.30" y1="189.29" x2="284.70" y2="189.29" stroke="#333" stroke-width="0.7"/>
<line x1="283.30" y1="187.91" x2="284.70" y2="187.91" stroke="#333" stroke-width="0.7"/>
<line x1="283.30" y1="186.69" x2="284.70" y2="186.69" stroke="#333" stroke-width="0.7"/>
<line x1="283.30" y1="226.04" x2="284.70" y2="226.04" stroke="#333" stroke-width="0.7"/>
<line x1="283.30" y1="221.84" x2="284.70" y2="221.84" stroke="#333" stroke-width="0.7"/>
<line x1="283.30" y1="218.87" x2="284.70" y2="218.87" stroke="#333" stroke-width="0.7"/>
<line x1="283.30" y1="216.56" x2="284.70" y2="216.56" stroke="#333" stroke-width="0.7"/>
<line x1="283.30" y1="214.68" x2="284.70" y2="214.68" stroke="#333" stroke-width="0.7"/>
<line x1="283.30" y1="213.09" x2="284.70" y2="213.09" stroke="#333" stroke-width="0.7"/>
<line x1="283.30" y1="211.71" x2="284.70" y2="211.71" stroke="#333" stroke-width="0.7"/>
<line x1="283.30" y1="210.49" x2="284.70" y2="210.49" stroke="#333" stroke-width="0.7"/>
<line x1="283.30" y1="251.30" x2="284.70" y2="251.30" stroke="#333" stroke-width="0.7"/>
<line x1="283.30" y1="246.74" x2="284.70" y2="246.74" stroke="#333" stroke-width="0.7"/>
<line x1="283.30" y1="243.51" x2="284.70" y2="243.51" stroke="#333" stroke-width="0.7"/>
<line x1="283.30" y1="241.00" x2="284.70" y2="241.00" stroke="#333" stroke-width="0.7"/>
<line x1="283.30" y1="238.95" x2="284.70" y2="238.95" stroke="#333" stroke-width="0.7"/>
<line x1="283.30" y1="237.21" x2="284.70" y2="237.21" stroke="#333" stroke-width="0.7"/>
<line x1="283.30" y1="235.71" x2="284.70" y2="235.71" stroke="#333" stroke-width="0.7"/>
<line x1="283.30" y1="234.39" x2="284.70" y2="234.39" stroke="#333" stroke-width="0.7"/>
<line x1="282.10" y1="271.00" x2="284.70" y2="271.00" stroke="#111" stroke-width="1.6"/>
<line x1="308.60" y1="281.40" x2="308.60" y2="284.00" stroke="#222" stroke-width="0.9"/>
<line x1="335.20" y1="281.40" x2="335.20" y2="284.00" stroke="#222" stroke-width="0.9"/>
<line x1="358.60" y1="281.40" x2="358.60" y2="284.00" stroke="#222" stroke-width="0.9"/>
<line x1="380.00" y1="281.40" x2="380.00" y2="284.00" stroke="#222" stroke-width="0.9"/>
<line x1="316.61" y1="281.40" x2="316.61" y2="282.90" stroke="#333" stroke-width="0.7"/>
<line x1="321.29" y1="281.40" x2="321.29" y2="282.90" stroke="#333" stroke-width="0.7"/>
<line x1="324.61" y1="281.40" x2="324.61" y2="282.90" stroke="#333" stroke-width="0.7"/>
<line x1="327.19" y1="281.40" x2="327.19" y2="282.90" stroke="#333" stroke-width="0.7"/>
<line x1="329.30" y1="281.40" x2="329.30" y2="282.90" stroke="#333" stroke-width="0.7"/>
<line x1="331.08" y1="281.40" x2="331.08" y2="282.90" stroke="#333" stroke-width="0.7"/>
<line x1="332.62" y1="281.40" x2="332.62" y2="282.90" stroke="#333" stroke-width="0.7"/>
<line x1="333.98" y1="281.40" x2="333.98" y2="282.90" stroke="#333" stroke-width="0.7"/>
<line x1="342.24" y1="281.40" x2="342.24" y2="282.90" stroke="#333" stroke-width="0.7"/>
<line x1="346.36" y1="281.40" x2="346.36" y2="282.90" stroke="#333" stroke-width="0.7"/>
<line x1="349.29" y1="281.40" x2="349.29" y2="282.90" stroke="#333" stroke-width="0.7"/>
<line x1="351.56" y1="281.40" x2="351.56" y2="282.90" stroke="#333" stroke-width="0.7"/>
<line x1="353.41" y1="281.40" x2="353.41" y2="282.90" stroke="#333" stroke-width="0.7"/>
<line x1="354.98" y1="281.40" x2="354.98" y2="282.90" stroke="#333" stroke-width="0.7"/>
<line x1="356.33" y1="281.40" x2="356.33" y2="282.90" stroke="#333" stroke-width="0.7"/>
<line x1="357.53" y1="281.40" x2="357.53" y2="282.90" stroke="#333" stroke-width="0.7"/>
<line x1="365.04" y1="281.40" x2="365.04" y2="282.90" stroke="#333" stroke-width="0.7"/>
<line x1="368.81" y1="281.40" x2="368.81" y2="282.90" stroke="#333" stroke-width="0.7"/>
<line x1="371.48" y1="281.40" x2="371.48" y2="282.90" stroke="#333" stroke-width="0.7"/>
<line x1="373.56" y1="281.40" x2="373.56" y2="282.90" stroke="#333" stroke-width="0.7"/>
<line x1="375.25" y1="281.40" x2="375.25" y2="282.90" stroke="#333" stroke-width="0.7"/>
<line x1="376.69" y1="281.40" x2="376.69" y2="282.90" stroke="#333" stroke-width="0.7"/>
<line x1="377.93" y1="281.40" x2="377.93" y2="282.90" stroke="#333" stroke-width="0.7"/>
<line x1="379.02" y1="281.40" x2="379.02" y2="282.90" stroke="#333" stroke-width="0.7"/>
<line x1="293.10" y1="281.40" x2="293.10" y2="284.00" stroke="#111" stroke-width="1.6"/>
<text x="281.10" y="188.40" font-size="6.8" text-anchor="end" fill="#111">10<tspan dy="-2.6" font-size="4.4">5</tspan></text>
<text x="281.10" y="212.20" font-size="6.8" text-anchor="end" fill="#111">10<tspan dy="-2.6" font-size="4.4">4</tspan></text>
<text x="281.10" y="236.00" font-size="6.8" text-anchor="end" fill="#111">10<tspan dy="-2.6" font-size="4.4">3</tspan></text>
<text x="281.10" y="261.90" font-size="6.8" text-anchor="end" fill="#111">10<tspan dy="-2.6" font-size="4.4">2</tspan></text>
<text x="277.50" y="273.30" font-size="6.8" text-anchor="end" fill="#111">0</text>
<text x="293.10" y="294.90" font-size="6.8" text-anchor="middle" fill="#111">0</text>
<text x="308.10" y="294.90" font-size="6.8" text-anchor="middle" fill="#111">10<tspan dy="-2.6" font-size="4.4">2</tspan></text>
<text x="334.70" y="294.90" font-size="6.8" text-anchor="middle" fill="#111">10<tspan dy="-2.6" font-size="4.4">3</tspan></text>
<text x="358.10" y="294.90" font-size="6.8" text-anchor="middle" fill="#111">10<tspan dy="-2.6" font-size="4.4">4</tspan></text>
<text x="379.50" y="294.90" font-size="6.8" text-anchor="middle" fill="#111">10<tspan dy="-2.6" font-size="4.4">5</tspan></text>
<clipPath id="clipko"><rect x="403.70" y="174.60" width="103.80" height="106.80"/></clipPath>
<g clip-path="url(#clipko)">
<path d="M400.00,214.20 C402.00,212.17 408.33,213.70 412.00,213.20 C415.67,212.70 418.83,211.93 422.00,211.20 C425.17,210.47 428.00,209.28 431.00,208.80 C434.00,208.32 437.33,208.03 440.00,208.30 C442.67,208.57 445.20,209.20 447.00,210.40 C448.80,211.60 450.25,213.65 450.80,215.50 C451.35,217.35 451.02,219.82 450.30,221.50 C449.58,223.18 448.55,224.72 446.50,225.60 C444.45,226.48 441.58,226.63 438.00,226.80 C434.42,226.97 429.33,226.77 425.00,226.60 C420.67,226.43 416.17,226.00 412.00,225.80 C407.83,225.60 402.00,227.33 400.00,225.40 C398.00,223.47 398.00,216.23 400.00,214.20 Z" fill="#fafafa" stroke="#666" stroke-width="0.5"/>
<path d="M400.84,214.94 C402.75,213.20 408.82,214.51 412.34,214.08 C415.85,213.65 418.88,213.00 421.92,212.37 C424.95,211.74 427.66,210.73 430.54,210.32 C433.41,209.90 436.61,209.66 439.16,209.89 C441.72,210.12 444.14,210.66 445.87,211.69 C447.59,212.71 448.98,214.47 449.51,216.05 C450.04,217.63 449.72,219.74 449.03,221.18 C448.34,222.62 447.35,223.93 445.39,224.69 C443.42,225.45 440.68,225.57 437.25,225.72 C433.81,225.86 428.94,225.69 424.79,225.55 C420.64,225.40 416.33,225.03 412.34,224.86 C408.34,224.69 402.75,226.17 400.84,224.52 C398.92,222.86 398.92,216.68 400.84,214.94 Z" fill="#f2f2f2" stroke="#555" stroke-width="0.5"/>
<path d="M401.68,215.67 C403.51,214.23 409.31,215.32 412.67,214.96 C416.03,214.61 418.93,214.06 421.83,213.54 C424.73,213.02 427.33,212.18 430.08,211.83 C432.83,211.49 435.88,211.29 438.32,211.48 C440.77,211.67 443.09,212.12 444.74,212.97 C446.38,213.82 447.71,215.28 448.22,216.60 C448.72,217.91 448.42,219.67 447.76,220.86 C447.10,222.06 446.16,223.15 444.28,223.78 C442.40,224.41 439.77,224.51 436.49,224.63 C433.21,224.75 428.55,224.61 424.58,224.49 C420.61,224.37 416.49,224.06 412.67,223.92 C408.85,223.78 403.51,225.01 401.68,223.64 C399.85,222.26 399.85,217.12 401.68,215.67 Z" fill="#e8e8e8" stroke="#444" stroke-width="0.5"/>
<path d="M425.00,217.50 C426.17,216.32 429.50,214.28 432.00,213.40 C434.50,212.52 437.75,212.07 440.00,212.20 C442.25,212.33 444.25,213.20 445.50,214.20 C446.75,215.20 447.42,216.87 447.50,218.20 C447.58,219.53 447.25,221.23 446.00,222.20 C444.75,223.17 442.33,223.80 440.00,224.00 C437.67,224.20 434.50,223.98 432.00,223.40 C429.50,222.82 426.17,221.48 425.00,220.50 C423.83,219.52 423.83,218.68 425.00,217.50 Z" fill="#a8a8a8" stroke="#222" stroke-width="0.6"/>
<path d="M429.00,218.20 C429.83,217.50 432.17,216.00 434.00,215.40 C435.83,214.80 438.33,214.47 440.00,214.60 C441.67,214.73 443.17,215.53 444.00,216.20 C444.83,216.87 445.07,217.77 445.00,218.60 C444.93,219.43 444.60,220.60 443.60,221.20 C442.60,221.80 440.77,222.13 439.00,222.20 C437.23,222.27 434.67,222.03 433.00,221.60 C431.33,221.17 429.67,220.17 429.00,219.60 C428.33,219.03 428.17,218.90 429.00,218.20 Z" fill="#989898" stroke="#222" stroke-width="0.55"/>
<path d="M429.00,216.80 L427.00,218.60 L429.00,220.40" fill="none" stroke="#eee" stroke-width="0.5"/>
<path d="M432.40,216.80 L430.40,218.60 L432.40,220.40" fill="none" stroke="#eee" stroke-width="0.5"/>
<path d="M435.80,216.80 L433.80,218.60 L435.80,220.40" fill="none" stroke="#eee" stroke-width="0.5"/>
<path d="M439.20,216.80 L437.20,218.60 L439.20,220.40" fill="none" stroke="#eee" stroke-width="0.5"/>
<path d="M404,211.5 C407,214 407.5,223 404,227 Z" fill="#2a2a2a"/>
<path d="M455.50,286 L451.50,254.35 L451.50,248.35 A14.70,12.05 0 0 1 480.90,248.35 L480.90,254.35 L479.40,286 Z" fill="#f6f6f6" stroke="#3a3a3a" stroke-width="0.5"/>
<path d="M456.85,286 L453.15,254.34 L453.15,248.34 A13.10,10.74 0 0 1 479.35,248.34 L479.35,254.34 L477.85,286 Z" fill="#eeeeee" stroke="#3a3a3a" stroke-width="0.5"/>
<path d="M457.90,286 L454.50,254.48 L454.50,248.48 A11.80,9.68 0 0 1 478.10,248.48 L478.10,254.48 L476.60,286 Z" fill="#e2e2e2" stroke="#262626" stroke-width="0.5"/>
<path d="M458.85,286 L455.75,254.69 L455.75,248.69 A10.60,8.69 0 0 1 476.95,248.69 L476.95,254.69 L475.45,286 Z" fill="#d4d4d4" stroke="#262626" stroke-width="0.5"/>
<path d="M459.70,286 L456.90,254.89 L456.90,248.89 A9.50,7.79 0 0 1 475.90,248.89 L475.90,254.89 L474.40,286 Z" fill="#c6c6c6" stroke="#262626" stroke-width="0.5"/>
<path d="M460.45,286 L457.95,255.17 L457.95,249.17 A8.50,6.97 0 0 1 474.95,249.17 L474.95,255.17 L473.45,286 Z" fill="#b8b8b8" stroke="#262626" stroke-width="0.5"/>
<path d="M461.10,286 L458.90,255.53 L458.90,249.53 A7.60,6.23 0 0 1 474.10,249.53 L474.10,255.53 L472.60,286 Z" fill="#aaaaaa" stroke="#262626" stroke-width="0.5"/>
<path d="M461.65,286 L459.75,255.98 L459.75,249.98 A6.80,5.58 0 0 1 473.35,249.98 L473.35,255.98 L471.85,286 Z" fill="#9e9e9e" stroke="#262626" stroke-width="0.5"/>
<path d="M462.20,286 L460.60,256.52 L460.60,250.52 A6.00,4.92 0 0 1 472.60,250.52 L472.60,256.52 L471.10,286 Z" fill="#949494" stroke="#262626" stroke-width="0.5"/>
<path d="M462.75,286 L461.45,257.16 L461.45,251.16 A5.20,4.26 0 0 1 471.85,251.16 L471.85,257.16 L470.35,286 Z" fill="#8c8c8c" stroke="#262626" stroke-width="0.5"/>
<path d="M463.30,286 L462.30,258.01 L462.30,252.01 A4.40,3.61 0 0 1 471.10,252.01 L471.10,258.01 L469.60,286 Z" fill="#868686" stroke="#262626" stroke-width="0.5"/>
<path d="M463.85,286 L463.15,258.95 L463.15,252.95 A3.60,2.95 0 0 1 470.35,252.95 L470.35,258.95 L468.85,286 Z" fill="#828282" stroke="#262626" stroke-width="0.5"/>
<path d="M467,246 L467,262" stroke="#d0d0d0" stroke-width="1.0"/>
<path d="M458,283 Q466,277.5 476,283 Z" fill="#222"/>
<rect x="403.70" y="192.9" width="49.50" height="43.60" fill="none" stroke="#8a8a8a" stroke-width="0.8"/>
</g>
<rect x="403.70" y="174.60" width="103.80" height="106.80" fill="none" stroke="#222" stroke-width="0.95"/>
<line x1="401.10" y1="185.60" x2="403.70" y2="185.60" stroke="#222" stroke-width="0.9"/>
<line x1="401.10" y1="209.40" x2="403.70" y2="209.40" stroke="#222" stroke-width="0.9"/>
<line x1="401.10" y1="233.20" x2="403.70" y2="233.20" stroke="#222" stroke-width="0.9"/>
<line x1="401.10" y1="259.10" x2="403.70" y2="259.10" stroke="#222" stroke-width="0.9"/>
<line x1="402.30" y1="202.24" x2="403.70" y2="202.24" stroke="#333" stroke-width="0.7"/>
<line x1="402.30" y1="198.04" x2="403.70" y2="198.04" stroke="#333" stroke-width="0.7"/>
<line x1="402.30" y1="195.07" x2="403.70" y2="195.07" stroke="#333" stroke-width="0.7"/>
<line x1="402.30" y1="192.76" x2="403.70" y2="192.76" stroke="#333" stroke-width="0.7"/>
<line x1="402.30" y1="190.88" x2="403.70" y2="190.88" stroke="#333" stroke-width="0.7"/>
<line x1="402.30" y1="189.29" x2="403.70" y2="189.29" stroke="#333" stroke-width="0.7"/>
<line x1="402.30" y1="187.91" x2="403.70" y2="187.91" stroke="#333" stroke-width="0.7"/>
<line x1="402.30" y1="186.69" x2="403.70" y2="186.69" stroke="#333" stroke-width="0.7"/>
<line x1="402.30" y1="226.04" x2="403.70" y2="226.04" stroke="#333" stroke-width="0.7"/>
<line x1="402.30" y1="221.84" x2="403.70" y2="221.84" stroke="#333" stroke-width="0.7"/>
<line x1="402.30" y1="218.87" x2="403.70" y2="218.87" stroke="#333" stroke-width="0.7"/>
<line x1="402.30" y1="216.56" x2="403.70" y2="216.56" stroke="#333" stroke-width="0.7"/>
<line x1="402.30" y1="214.68" x2="403.70" y2="214.68" stroke="#333" stroke-width="0.7"/>
<line x1="402.30" y1="213.09" x2="403.70" y2="213.09" stroke="#333" stroke-width="0.7"/>
<line x1="402.30" y1="211.71" x2="403.70" y2="211.71" stroke="#333" stroke-width="0.7"/>
<line x1="402.30" y1="210.49" x2="403.70" y2="210.49" stroke="#333" stroke-width="0.7"/>
<line x1="402.30" y1="251.30" x2="403.70" y2="251.30" stroke="#333" stroke-width="0.7"/>
<line x1="402.30" y1="246.74" x2="403.70" y2="246.74" stroke="#333" stroke-width="0.7"/>
<line x1="402.30" y1="243.51" x2="403.70" y2="243.51" stroke="#333" stroke-width="0.7"/>
<line x1="402.30" y1="241.00" x2="403.70" y2="241.00" stroke="#333" stroke-width="0.7"/>
<line x1="402.30" y1="238.95" x2="403.70" y2="238.95" stroke="#333" stroke-width="0.7"/>
<line x1="402.30" y1="237.21" x2="403.70" y2="237.21" stroke="#333" stroke-width="0.7"/>
<line x1="402.30" y1="235.71" x2="403.70" y2="235.71" stroke="#333" stroke-width="0.7"/>
<line x1="402.30" y1="234.39" x2="403.70" y2="234.39" stroke="#333" stroke-width="0.7"/>
<line x1="401.10" y1="271.00" x2="403.70" y2="271.00" stroke="#111" stroke-width="1.6"/>
<line x1="427.60" y1="281.40" x2="427.60" y2="284.00" stroke="#222" stroke-width="0.9"/>
<line x1="454.20" y1="281.40" x2="454.20" y2="284.00" stroke="#222" stroke-width="0.9"/>
<line x1="477.60" y1="281.40" x2="477.60" y2="284.00" stroke="#222" stroke-width="0.9"/>
<line x1="499.00" y1="281.40" x2="499.00" y2="284.00" stroke="#222" stroke-width="0.9"/>
<line x1="435.61" y1="281.40" x2="435.61" y2="282.90" stroke="#333" stroke-width="0.7"/>
<line x1="440.29" y1="281.40" x2="440.29" y2="282.90" stroke="#333" stroke-width="0.7"/>
<line x1="443.61" y1="281.40" x2="443.61" y2="282.90" stroke="#333" stroke-width="0.7"/>
<line x1="446.19" y1="281.40" x2="446.19" y2="282.90" stroke="#333" stroke-width="0.7"/>
<line x1="448.30" y1="281.40" x2="448.30" y2="282.90" stroke="#333" stroke-width="0.7"/>
<line x1="450.08" y1="281.40" x2="450.08" y2="282.90" stroke="#333" stroke-width="0.7"/>
<line x1="451.62" y1="281.40" x2="451.62" y2="282.90" stroke="#333" stroke-width="0.7"/>
<line x1="452.98" y1="281.40" x2="452.98" y2="282.90" stroke="#333" stroke-width="0.7"/>
<line x1="461.24" y1="281.40" x2="461.24" y2="282.90" stroke="#333" stroke-width="0.7"/>
<line x1="465.36" y1="281.40" x2="465.36" y2="282.90" stroke="#333" stroke-width="0.7"/>
<line x1="468.29" y1="281.40" x2="468.29" y2="282.90" stroke="#333" stroke-width="0.7"/>
<line x1="470.56" y1="281.40" x2="470.56" y2="282.90" stroke="#333" stroke-width="0.7"/>
<line x1="472.41" y1="281.40" x2="472.41" y2="282.90" stroke="#333" stroke-width="0.7"/>
<line x1="473.98" y1="281.40" x2="473.98" y2="282.90" stroke="#333" stroke-width="0.7"/>
<line x1="475.33" y1="281.40" x2="475.33" y2="282.90" stroke="#333" stroke-width="0.7"/>
<line x1="476.53" y1="281.40" x2="476.53" y2="282.90" stroke="#333" stroke-width="0.7"/>
<line x1="484.04" y1="281.40" x2="484.04" y2="282.90" stroke="#333" stroke-width="0.7"/>
<line x1="487.81" y1="281.40" x2="487.81" y2="282.90" stroke="#333" stroke-width="0.7"/>
<line x1="490.48" y1="281.40" x2="490.48" y2="282.90" stroke="#333" stroke-width="0.7"/>
<line x1="492.56" y1="281.40" x2="492.56" y2="282.90" stroke="#333" stroke-width="0.7"/>
<line x1="494.25" y1="281.40" x2="494.25" y2="282.90" stroke="#333" stroke-width="0.7"/>
<line x1="495.69" y1="281.40" x2="495.69" y2="282.90" stroke="#333" stroke-width="0.7"/>
<line x1="496.93" y1="281.40" x2="496.93" y2="282.90" stroke="#333" stroke-width="0.7"/>
<line x1="498.02" y1="281.40" x2="498.02" y2="282.90" stroke="#333" stroke-width="0.7"/>
<line x1="412.10" y1="281.40" x2="412.10" y2="284.00" stroke="#111" stroke-width="1.6"/>
<text x="412.10" y="294.90" font-size="6.8" text-anchor="middle" fill="#111">0</text>
<text x="427.10" y="294.90" font-size="6.8" text-anchor="middle" fill="#111">10<tspan dy="-2.6" font-size="4.4">2</tspan></text>
<text x="453.70" y="294.90" font-size="6.8" text-anchor="middle" fill="#111">10<tspan dy="-2.6" font-size="4.4">3</tspan></text>
<text x="477.10" y="294.90" font-size="6.8" text-anchor="middle" fill="#111">10<tspan dy="-2.6" font-size="4.4">4</tspan></text>
<text x="498.50" y="294.90" font-size="6.8" text-anchor="middle" fill="#111">10<tspan dy="-2.6" font-size="4.4">5</tspan></text>
<text x="351.9" y="169.6" font-size="10" text-anchor="middle" fill="#111">WT</text>
<text x="455.4" y="169.6" font-size="10" font-style="italic" fill="#111">Cxcr2<tspan dx="0.9" dy="-4" font-size="7">-/-</tspan></text>
<text transform="translate(266.1,225.5) rotate(-90)" font-size="11" text-anchor="middle" textLength="29" lengthAdjust="spacingAndGlyphs" fill="#111">CD45.2</text>
<line x1="292" y1="300" x2="505" y2="300" stroke="#111" stroke-width="1.3"/>
<path d="M503.8,296.5 L512.2,300 L503.8,303.5 L505.2,300 Z" fill="#111"/>
<text x="385" y="312" font-size="10.7" textLength="28" lengthAdjust="spacingAndGlyphs" fill="#111">CD45.1</text>
<rect x="0.5" y="0.5" width="519" height="730" fill="none" stroke="#3a3a3a" stroke-width="1.2"/>
</svg>
</body></html>
